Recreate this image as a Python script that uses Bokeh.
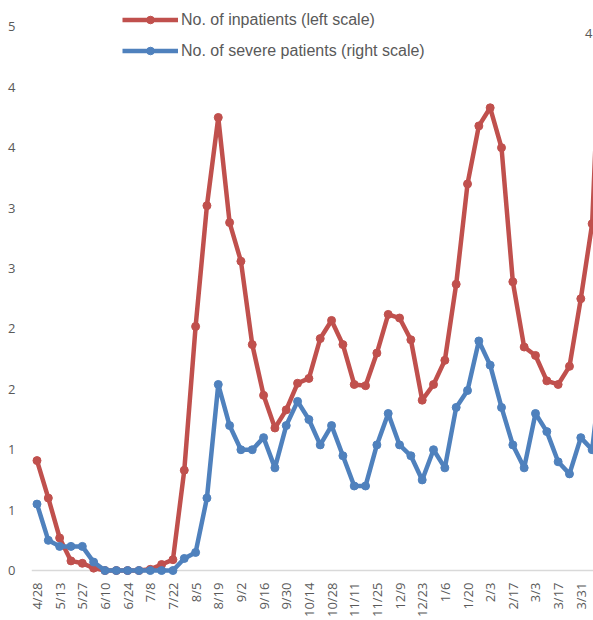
from bokeh.plotting import figure
from bokeh.models import Range1d, FixedTicker, Span, Label, Legend, LegendItem
import math
from bokeh.embed import file_html
from bokeh.resources import INLINE

# x-axis tick labels (every second weekly point)
tick_labels = ["4/28", "5/13", "5/27", "6/10", "6/24", "7/8", "7/22", "8/5", "8/19",
               "9/2", "9/16", "9/30", "10/14", "10/28", "11/11", "11/25", "12/9",
               "12/23", "1/6", "1/20", "2/3", "2/17", "3/3", "3/17", "3/31"]

# No. of inpatients (left scale)
inpatients = [0.91, 0.60, 0.27, 0.08, 0.06, 0.02, 0.0, 0.0, 0.0, 0.0, 0.01, 0.05, 0.09,
              0.83, 2.02, 3.02, 3.75, 2.88, 2.56, 1.87, 1.45, 1.18, 1.33, 1.55, 1.59,
              1.92, 2.07, 1.87, 1.54, 1.53, 1.80, 2.12, 2.09, 1.91, 1.41, 1.54, 1.74,
              2.37, 3.20, 3.68, 3.83, 3.50, 2.39, 1.85, 1.78, 1.57, 1.54, 1.69, 2.25,
              2.87, 5.10]

# No. of severe patients (right scale)
severe = [5.5, 2.5, 2.0, 2.0, 2.0, 0.7, 0.0, 0.0, 0.0, 0.0, 0.0, 0.0, 0.0,
          1.0, 1.5, 6.0, 15.4, 12.0, 10.0, 10.0, 11.0, 8.5, 12.0, 14.0, 12.5,
          10.4, 12.0, 9.5, 7.0, 7.0, 10.4, 13.0, 10.4, 9.5, 7.5, 10.0, 8.5,
          13.5, 14.9, 19.0, 17.0, 13.5, 10.4, 8.5, 13.0, 11.5, 9.0, 8.0, 11.0,
          10.0, 18.0]

left_ticks = [0, 0.5, 1.0, 1.5, 2.0, 2.5, 3.0, 3.5, 4.0, 4.5]
left_tick_labels = ["0", "1", "1", "2", "2", "3", "3", "4", "4", "5"]

RED = "#C0504D"
BLUE = "#4F81BD"
GRAY = "#595959"

x = list(range(len(inpatients)))
tick_pos = list(range(0, 2 * len(tick_labels), 2))

p = figure(width=593, height=620, output_backend="svg", toolbar_location=None,
           x_range=Range1d(-0.485, 49.12), y_range=Range1d(-0.041, 4.718),
           min_border_left=31, min_border_right=0, min_border_top=0,
           min_border_bottom=45)
p.extra_y_ranges = {"right": Range1d(-0.41, 47.18)}
p.outline_line_color = None
p.xgrid.visible = False
p.ygrid.visible = False

# axes
xa = p.xaxis[0]
xa.ticker = FixedTicker(ticks=tick_pos)
xa.major_label_overrides = {t: l for t, l in zip(tick_pos, tick_labels)}
xa.major_label_orientation = math.pi / 2
xa.axis_line_color = None
xa.major_tick_line_color = None
xa.minor_tick_line_color = None
xa.major_tick_out = 0
xa.major_tick_in = 0
xa.minor_tick_out = 0
xa.major_label_standoff = 7
xa.major_label_text_font = "Open Sans"
xa.major_label_text_font_size = "13px"
xa.major_label_text_color = GRAY

ya = p.yaxis[0]
ya.ticker = FixedTicker(ticks=left_ticks)
ya.major_label_overrides = {t: l for t, l in zip(left_ticks, left_tick_labels)}
ya.axis_line_color = None
ya.major_tick_line_color = None
ya.minor_tick_line_color = None
ya.major_tick_out = 0
ya.major_tick_in = 0
ya.minor_tick_out = 0
ya.major_label_standoff = 16
ya.major_label_text_font = "Open Sans"
ya.major_label_text_font_size = "13px"
ya.major_label_text_color = GRAY

zero_line = Span(location=0, dimension="width", line_color="#D9D9D9",
                 line_width=1.5, level="underlay")
p.add_layout(zero_line)

# series
l1 = p.line(x, inpatients, line_color=RED, line_width=4.5, line_join="round")
s1 = p.scatter(x, inpatients, size=8, fill_color=RED, line_color=RED)
l2 = p.line(x, severe, y_range_name="right", line_color=BLUE, line_width=4.5,
            line_join="round")
s2 = p.scatter(x, severe, y_range_name="right", size=8, fill_color=BLUE,
               line_color=BLUE)

legend = Legend(items=[
    LegendItem(label="No. of inpatients (left scale)", renderers=[l1, s1]),
    LegendItem(label="No. of severe patients (right scale)", renderers=[l2, s2]),
], location=(91, 515), orientation="vertical", glyph_width=56, glyph_height=19,
    spacing=12, padding=0, margin=0, label_standoff=3,
    label_text_font="Liberation Sans", label_text_font_size="16px",
    label_text_color=GRAY, background_fill_alpha=0, border_line_alpha=0)
p.add_layout(legend)

# right-scale label at the edge
p.add_layout(Label(x=49.03, y=4.445, text="4", text_align="right",
                   text_baseline="middle", text_font="Open Sans",
                   text_font_size="13px", text_color=GRAY))

open("out.html", "w").write(file_html(p, INLINE))
